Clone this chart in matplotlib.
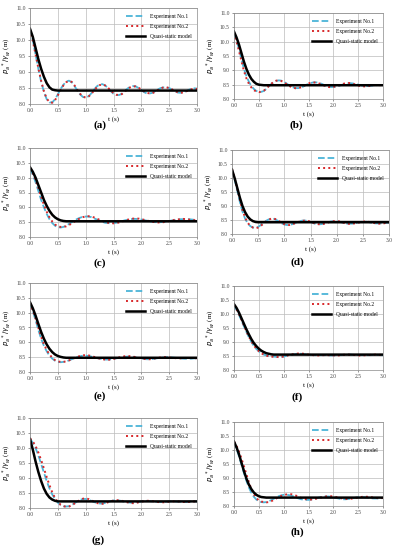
import numpy as np
import matplotlib
matplotlib.use('Agg')
import matplotlib.pyplot as plt

plt.rcParams['font.family'] = ['Liberation Serif', 'DejaVu Serif']

## time samples (s) ##
t = np.round(np.arange(61) * 0.05, 2)

## experiment No.1 / No.2 and quasi-static model, one block per panel ##
a_exp1 = [10.35, 10.00, 9.55, 9.10, 8.70, 8.38, 8.15, 8.05, 8.05, 8.15,
          8.30, 8.47, 8.60, 8.70, 8.73, 8.68, 8.56, 8.42, 8.30, 8.22,
          8.20, 8.24, 8.33, 8.45, 8.55, 8.61, 8.62, 8.58, 8.50, 8.40,
          8.32, 8.28, 8.28, 8.32, 8.40, 8.48, 8.54, 8.56, 8.55, 8.50,
          8.43, 8.37, 8.33, 8.33, 8.35, 8.40, 8.46, 8.50, 8.52, 8.52,
          8.50, 8.45, 8.40, 8.36, 8.35, 8.36, 8.40, 8.44, 8.48, 8.49,
          8.48]
a_exp2 = [10.33, 9.98, 9.55, 9.12, 8.73, 8.40, 8.17, 8.06, 8.04, 8.12,
          8.27, 8.44, 8.58, 8.68, 8.72, 8.69, 8.58, 8.44, 8.32, 8.23,
          8.20, 8.23, 8.31, 8.42, 8.52, 8.59, 8.61, 8.58, 8.51, 8.42,
          8.34, 8.29, 8.28, 8.31, 8.38, 8.46, 8.52, 8.55, 8.55, 8.51,
          8.45, 8.39, 8.35, 8.33, 8.34, 8.38, 8.44, 8.49, 8.52, 8.52,
          8.50, 8.46, 8.41, 8.37, 8.35, 8.36, 8.39, 8.43, 8.46, 8.48,
          8.47]
a_model = [10.35, 10.10, 9.75, 9.40, 9.10, 8.85, 8.65, 8.52, 8.45, 8.43, 8.42]

b_exp1 = [10.30, 10.05, 9.75, 9.40, 9.05, 8.80, 8.60, 8.45, 8.35, 8.28,
          8.25, 8.25, 8.28, 8.35, 8.44, 8.52, 8.59, 8.63, 8.65, 8.64,
          8.60, 8.55, 8.49, 8.43, 8.40, 8.38, 8.38, 8.40, 8.44, 8.49,
          8.53, 8.56, 8.58, 8.58, 8.57, 8.54, 8.50, 8.46, 8.43, 8.42,
          8.42, 8.43, 8.45, 8.48, 8.51, 8.53, 8.55, 8.55, 8.54, 8.52,
          8.50, 8.48, 8.46, 8.45, 8.45, 8.46, 8.47, 8.48, 8.49, 8.49,
          8.48]
b_exp2 = [10.32, 10.02, 9.68, 9.32, 8.98, 8.72, 8.53, 8.40, 8.31, 8.26,
          8.24, 8.25, 8.29, 8.36, 8.45, 8.53, 8.60, 8.64, 8.65, 8.63,
          8.59, 8.53, 8.47, 8.42, 8.39, 8.37, 8.38, 8.41, 8.45, 8.50,
          8.54, 8.57, 8.58, 8.57, 8.55, 8.52, 8.48, 8.44, 8.42, 8.41,
          8.42, 8.44, 8.47, 8.50, 8.53, 8.55, 8.56, 8.55, 8.53, 8.50,
          8.47, 8.45, 8.44, 8.44, 8.45, 8.46, 8.48, 8.49, 8.49, 8.48,
          8.47]
b_model = [10.35, 10.15, 9.90, 9.60, 9.30, 9.05, 8.85, 8.70, 8.60, 8.53,
           8.50, 8.49, 8.48]

c_exp1 = [10.30, 10.10, 9.85, 9.55, 9.25, 9.00, 8.78, 8.60, 8.47, 8.38,
          8.33, 8.32, 8.34, 8.38, 8.44, 8.50, 8.56, 8.61, 8.65, 8.68,
          8.69, 8.69, 8.67, 8.63, 8.59, 8.55, 8.51, 8.48, 8.47, 8.46,
          8.47, 8.48, 8.50, 8.53, 8.56, 8.58, 8.60, 8.61, 8.61, 8.60,
          8.59, 8.57, 8.55, 8.53, 8.51, 8.50, 8.50, 8.50, 8.51, 8.52,
          8.54, 8.56, 8.57, 8.59, 8.60, 8.60, 8.60, 8.60, 8.59, 8.58,
          8.57]
c_exp2 = [10.32, 10.15, 9.92, 9.65, 9.36, 9.09, 8.85, 8.66, 8.52, 8.42,
          8.36, 8.34, 8.34, 8.36, 8.40, 8.46, 8.52, 8.58, 8.63, 8.67,
          8.69, 8.70, 8.69, 8.66, 8.62, 8.58, 8.54, 8.50, 8.48, 8.47,
          8.46, 8.47, 8.49, 8.52, 8.55, 8.58, 8.60, 8.62, 8.62, 8.62,
          8.60, 8.58, 8.56, 8.53, 8.51, 8.50, 8.49, 8.49, 8.50, 8.52,
          8.54, 8.56, 8.58, 8.59, 8.60, 8.61, 8.60, 8.59, 8.58, 8.57,
          8.56]
c_model = [10.35, 10.20, 10.00, 9.75, 9.50, 9.25, 9.05, 8.88, 8.75, 8.66,
           8.60, 8.56, 8.54, 8.53]

d_exp1 = [10.30, 9.95, 9.55, 9.15, 8.80, 8.55, 8.38, 8.28, 8.23, 8.22,
          8.25, 8.32, 8.40, 8.47, 8.52, 8.54, 8.54, 8.50, 8.44, 8.38,
          8.34, 8.32, 8.32, 8.35, 8.39, 8.43, 8.46, 8.48, 8.48, 8.46,
          8.43, 8.39, 8.36, 8.35, 8.35, 8.37, 8.40, 8.43, 8.45, 8.46,
          8.46, 8.44, 8.41, 8.39, 8.37, 8.37, 8.37, 8.39, 8.41, 8.43,
          8.44, 8.44, 8.43, 8.41, 8.39, 8.38, 8.38, 8.38, 8.39, 8.40,
          8.41]
d_exp2 = [10.32, 10.00, 9.62, 9.22, 8.86, 8.59, 8.40, 8.29, 8.23, 8.21,
          8.23, 8.29, 8.37, 8.45, 8.51, 8.55, 8.55, 8.52, 8.46, 8.40,
          8.35, 8.32, 8.32, 8.34, 8.38, 8.42, 8.45, 8.47, 8.48, 8.47,
          8.44, 8.40, 8.37, 8.35, 8.35, 8.36, 8.39, 8.42, 8.45, 8.46,
          8.46, 8.45, 8.42, 8.39, 8.37, 8.36, 8.37, 8.38, 8.40, 8.42,
          8.44, 8.45, 8.44, 8.42, 8.40, 8.38, 8.37, 8.37, 8.38, 8.40,
          8.41]
d_model = [10.30, 10.00, 9.65, 9.30, 9.00, 8.78, 8.62, 8.52, 8.46, 8.43, 8.42]

e_exp1 = [10.32, 10.05, 9.75, 9.42, 9.12, 8.88, 8.70, 8.55, 8.45, 8.38,
          8.34, 8.33, 8.34, 8.36, 8.39, 8.43, 8.47, 8.50, 8.53, 8.55,
          8.55, 8.54, 8.52, 8.49, 8.47, 8.45, 8.43, 8.42, 8.42, 8.43,
          8.44, 8.46, 8.48, 8.50, 8.51, 8.52, 8.52, 8.51, 8.49, 8.47,
          8.45, 8.44, 8.43, 8.43, 8.44, 8.45, 8.47, 8.48, 8.49, 8.50,
          8.50, 8.49, 8.48, 8.47, 8.46, 8.45, 8.45, 8.45, 8.45, 8.46,
          8.46]
e_exp2 = [10.33, 10.08, 9.80, 9.49, 9.19, 8.94, 8.74, 8.59, 8.48, 8.40,
          8.36, 8.34, 8.34, 8.36, 8.39, 8.43, 8.47, 8.51, 8.54, 8.56,
          8.57, 8.56, 8.54, 8.51, 8.48, 8.45, 8.43, 8.42, 8.41, 8.42,
          8.44, 8.46, 8.49, 8.51, 8.53, 8.54, 8.53, 8.52, 8.50, 8.48,
          8.46, 8.44, 8.43, 8.43, 8.44, 8.46, 8.48, 8.49, 8.50, 8.50,
          8.49, 8.48, 8.47, 8.46, 8.46, 8.46, 8.47, 8.47, 8.47, 8.47,
          8.46]
e_model = [10.35, 10.15, 9.90, 9.62, 9.35, 9.12, 8.93, 8.78, 8.67, 8.59,
           8.54, 8.51, 8.49, 8.48]

f_exp1 = [10.32, 10.15, 9.97, 9.77, 9.56, 9.36, 9.17, 9.00, 8.86, 8.75,
          8.67, 8.60, 8.55, 8.52, 8.50, 8.49, 8.48, 8.47, 8.47, 8.47,
          8.48, 8.50, 8.52, 8.54, 8.56, 8.57, 8.58, 8.58, 8.57, 8.56,
          8.55, 8.54, 8.53, 8.53, 8.53, 8.53, 8.53, 8.53, 8.52, 8.52,
          8.52, 8.52, 8.53, 8.53, 8.54, 8.54, 8.55, 8.55, 8.54, 8.54,
          8.53, 8.53, 8.53, 8.53, 8.53, 8.53, 8.54, 8.54, 8.54, 8.53,
          8.53]
f_exp2 = [10.33, 10.17, 10.00, 9.80, 9.59, 9.38, 9.19, 9.02, 8.88, 8.76,
          8.67, 8.60, 8.55, 8.51, 8.49, 8.48, 8.47, 8.47, 8.46, 8.47,
          8.48, 8.50, 8.53, 8.55, 8.57, 8.58, 8.59, 8.59, 8.58, 8.57,
          8.55, 8.54, 8.53, 8.52, 8.52, 8.52, 8.53, 8.53, 8.53, 8.52,
          8.52, 8.52, 8.52, 8.53, 8.54, 8.55, 8.55, 8.54, 8.54, 8.53,
          8.52, 8.52, 8.52, 8.53, 8.53, 8.54, 8.54, 8.55, 8.54, 8.54,
          8.53]
f_model = [10.35, 10.22, 10.05, 9.85, 9.65, 9.45, 9.27, 9.10, 8.96, 8.85,
           8.76, 8.69, 8.64, 8.60, 8.58, 8.56, 8.55]

g_exp1 = [10.30, 10.18, 10.00, 9.75, 9.47, 9.18, 8.90, 8.65, 8.45, 8.30,
          8.18, 8.10, 8.06, 8.05, 8.06, 8.10, 8.16, 8.22, 8.27, 8.30,
          8.30, 8.28, 8.24, 8.20, 8.17, 8.15, 8.15, 8.17, 8.20, 8.23,
          8.25, 8.26, 8.25, 8.23, 8.21, 8.19, 8.18, 8.17, 8.18, 8.20,
          8.22, 8.23, 8.24, 8.23, 8.22, 8.21, 8.20, 8.20, 8.20, 8.21,
          8.22, 8.22, 8.22, 8.21, 8.21, 8.20, 8.20, 8.21, 8.22, 8.22,
          8.22]
g_exp2 = [10.32, 10.22, 10.07, 9.85, 9.60, 9.32, 9.03, 8.76, 8.52, 8.33,
          8.20, 8.11, 8.06, 8.04, 8.05, 8.09, 8.15, 8.21, 8.27, 8.31,
          8.32, 8.30, 8.26, 8.21, 8.17, 8.14, 8.14, 8.16, 8.19, 8.22,
          8.25, 8.26, 8.26, 8.24, 8.21, 8.19, 8.17, 8.16, 8.17, 8.19,
          8.21, 8.23, 8.24, 8.24, 8.23, 8.21, 8.20, 8.19, 8.19, 8.20,
          8.21, 8.22, 8.22, 8.22, 8.21, 8.20, 8.20, 8.20, 8.21, 8.22,
          8.22]
g_model = [10.30, 9.95, 9.55, 9.20, 8.90, 8.65, 8.47, 8.35, 8.28, 8.24, 8.22]

h_exp1 = [10.30, 10.05, 9.78, 9.48, 9.18, 8.90, 8.66, 8.47, 8.33, 8.23,
          8.17, 8.14, 8.13, 8.14, 8.17, 8.21, 8.26, 8.31, 8.35, 8.38,
          8.40, 8.40, 8.39, 8.37, 8.34, 8.30, 8.27, 8.24, 8.23, 8.22,
          8.22, 8.23, 8.25, 8.27, 8.30, 8.32, 8.33, 8.34, 8.34, 8.33,
          8.31, 8.29, 8.27, 8.25, 8.24, 8.24, 8.25, 8.26, 8.28, 8.30,
          8.31, 8.32, 8.32, 8.31, 8.30, 8.28, 8.27, 8.27, 8.27, 8.28,
          8.28]
h_exp2 = [10.30, 10.15, 9.95, 9.70, 9.42, 9.13, 8.85, 8.60, 8.42, 8.28,
          8.20, 8.16, 8.14, 8.13, 8.14, 8.17, 8.22, 8.27, 8.32, 8.36,
          8.39, 8.41, 8.42, 8.42, 8.40, 8.37, 8.33, 8.29, 8.26, 8.24,
          8.23, 8.23, 8.24, 8.26, 8.28, 8.30, 8.32, 8.34, 8.35, 8.35,
          8.34, 8.32, 8.30, 8.28, 8.26, 8.25, 8.25, 8.26, 8.27, 8.29,
          8.30, 8.32, 8.33, 8.33, 8.33, 8.32, 8.30, 8.29, 8.28, 8.28,
          8.29]
h_model = [10.30, 10.10, 9.85, 9.55, 9.25, 8.98, 8.76, 8.60, 8.48, 8.40,
           8.35, 8.32, 8.31, 8.30]

panels = [('(a)', a_exp1, a_exp2, a_model),
          ('(b)', b_exp1, b_exp2, b_model),
          ('(c)', c_exp1, c_exp2, c_model),
          ('(d)', d_exp1, d_exp2, d_model),
          ('(e)', e_exp1, e_exp2, e_model),
          ('(f)', f_exp1, f_exp2, f_model),
          ('(g)', g_exp1, g_exp2, g_model),
          ('(h)', h_exp1, h_exp2, h_model)]

## axes boxes in pixels: left, top, right, bottom, label x, label y ##
W, H = 395., 550.
boxes = [(30, 8, 197, 104, 100, 125),
         (234, 13, 383, 99, 296, 125),
         (30, 148, 197, 237, 100, 263),
         (232, 150, 389, 234, 297, 262),
         (30, 283, 197, 372, 100, 396),
         (234, 286, 383, 370, 297, 397),
         (30, 418, 197, 508, 98, 540),
         (234, 422, 383, 506, 297, 532)]

fig = plt.figure(figsize=(3.95, 5.5), dpi=100)

for (lab, e1, e2, m), (l, tp, r, b, lx, ly) in zip(panels, boxes):
    ax = fig.add_axes([l/W, 1-b/H, (r-l)/W, (b-tp)/H])
    ax.plot(t, e1, '--', color='#4BB4D8', lw=1.3, label='Experiment No.1')
    ax.plot(t, e2, ':', color='#D8282A', lw=1.4, label='Experiment No.2')
    tm = list(t[:len(m)]) + [3.0]
    ax.plot(tm, m + [m[-1]], '-', color='black', lw=1.8, label='Quasi-static model')
    ax.set_xlim(0, 3)
    ax.set_ylim(8, 11)
    ax.set_xticks(np.arange(0, 3.01, 0.5))
    ax.set_yticks(np.arange(8, 11.01, 0.5))
    ax.xaxis.set_major_formatter(matplotlib.ticker.FormatStrFormatter('%.1f'))
    ax.yaxis.set_major_formatter(matplotlib.ticker.FormatStrFormatter('%.1f'))
    ax.tick_params(labelsize=4, length=1.5, width=0.4, pad=1.5, colors='#444444')
    ax.grid(True, color='#BBBBBB', lw=0.5)
    ax.set_axisbelow(True)
    for s in ax.spines.values():
        s.set_color('#888888')
        s.set_linewidth(0.5)
    ax.set_xlabel('t (s)', fontsize=5, labelpad=2)
    ax.set_ylabel(r'$\boldsymbol{p_a}^*/\gamma_w$ (m)', fontsize=5, labelpad=2)
    ax.legend(loc='upper right', fontsize=4, frameon=False, handlelength=3.5,
              borderaxespad=0.6, labelspacing=0.9)
    fig.text(lx/W, 1-ly/H, lab, fontsize=8, fontweight='bold', ha='center', va='center')

plt.savefig('out.png', dpi=100)
